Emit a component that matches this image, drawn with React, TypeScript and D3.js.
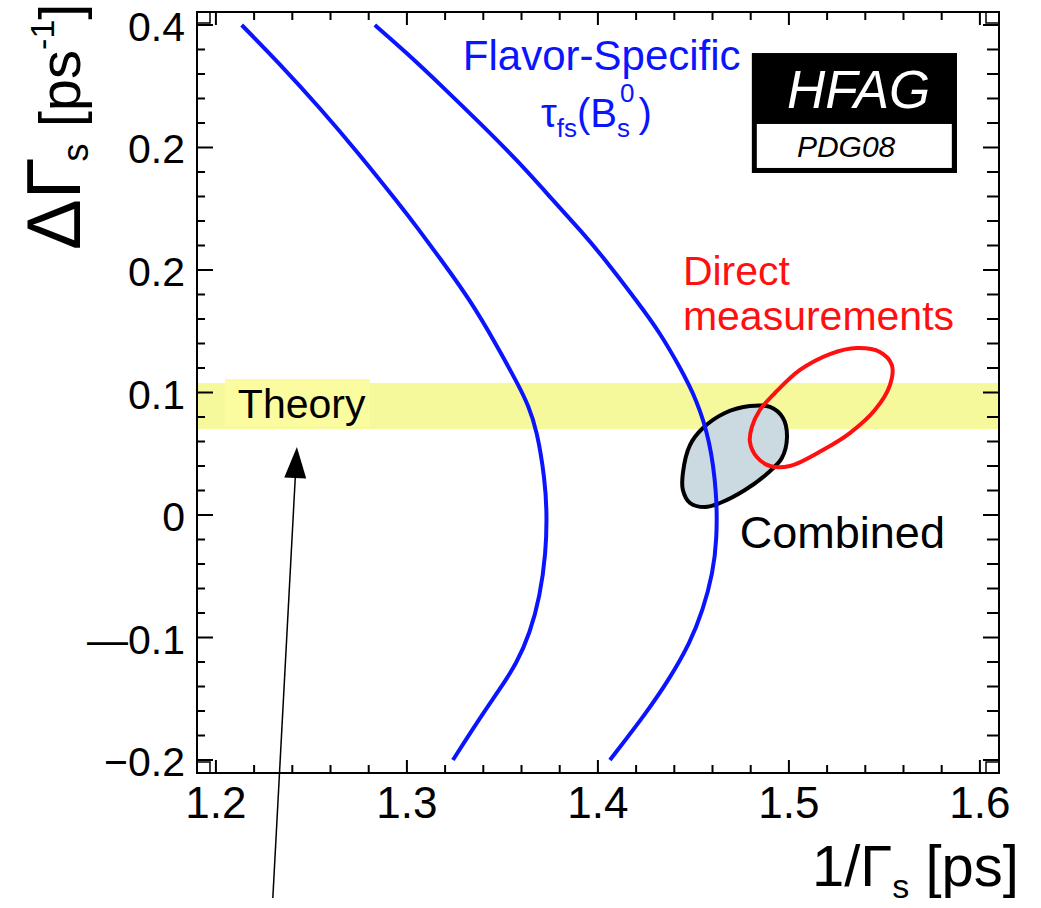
import * as d3 from 'd3';

// ─── Data ───────────────────────────────────────────────────

const xDomain: [number, number] = [1.1901, 1.61];
const yDomain: [number, number] = [-0.2106, 0.4106];

const xTicks = [1.2, 1.3, 1.4, 1.5, 1.6];
const xTickLabels = ['1.2', '1.3', '1.4', '1.5', '1.6'];
const yTicks = [0.4, 0.3, 0.2, 0.1, 0, -0.1, -0.2];
const yTickLabels = ['0.4', '0.2', '0.2', '0.1', '0', '\u20140.1', '\u22120.2'];

// flavor-specific lifetime contours (1/Γs, ΔΓs)
const fsInner: [number, number][] = [
  [1.2135, 0.4], [1.2335, 0.3682], [1.2545, 0.3322], [1.2754, 0.2939], [1.2963, 0.2531],
  [1.3052, 0.2351], [1.3199, 0.2041], [1.333, 0.1755], [1.3461, 0.1412], [1.3592, 0.1037],
  [1.3634, 0.0898], [1.3681, 0.0694], [1.3723, 0.0286], [1.3733, 0.0016], [1.3728, -0.031],
  [1.3696, -0.0669], [1.3644, -0.0963], [1.3576, -0.1208], [1.3487, -0.142], [1.3382, -0.1657],
  [1.3241, -0.2],
];
const fsOuter: [number, number][] = [
  [1.2832, 0.4], [1.3, 0.3771], [1.3188, 0.3494], [1.3382, 0.32], [1.3576, 0.2898],
  [1.3764, 0.2571], [1.3921, 0.2302], [1.401, 0.2139], [1.422, 0.1714], [1.4325, 0.1486],
  [1.4429, 0.1208], [1.4518, 0.0939], [1.4586, 0.0612], [1.4623, 0.018], [1.4623, -0.0204],
  [1.4602, -0.0473], [1.455, -0.0776], [1.4482, -0.1045], [1.4377, -0.1331], [1.4257, -0.1608],
  [1.4063, -0.2],
];

// combined fit contour
const combined: [number, number][] = [
  [1.4445, 0.0343], [1.4482, 0.0571], [1.455, 0.071], [1.4665, 0.0833], [1.4796, 0.089],
  [1.4901, 0.0882], [1.4969, 0.0792], [1.499, 0.0637], [1.4963, 0.0465], [1.489, 0.0343],
  [1.477, 0.0204], [1.4639, 0.0098], [1.456, 0.0065], [1.4482, 0.0098], [1.4445, 0.0204],
];

// direct measurements contour
const direct: [number, number][] = [
  [1.4806, 0.0718], [1.4796, 0.0596], [1.4832, 0.0473], [1.4901, 0.04], [1.5005, 0.04],
  [1.5178, 0.0531], [1.5319, 0.0669], [1.545, 0.0857], [1.5529, 0.1061], [1.5539, 0.1224],
  [1.5476, 0.1331], [1.5356, 0.1363], [1.5215, 0.1314], [1.5058, 0.1184], [1.4927, 0.0996],
  [1.4848, 0.0857],
];

// theory prediction band in ΔΓs
const theoryBand: [number, number] = [0.0702, 0.1078];

// ─── Styles ─────────────────────────────────────────────────

const FONT = '"Liberation Sans", Arial, Helvetica, sans-serif';
const BLUE = '#0a14ff';
const RED = '#ff1010';

export default function App() {
  const W = 1041;
  const H = 908;
  const left = 197, right = 999, top = 12, bottom = 773;

  const x = d3.scaleLinear().domain(xDomain).range([left, right]);
  const y = d3.scaleLinear().domain(yDomain).range([bottom, top]);

  // basis smooths the read-off wobble in the contour points
  const open = d3.line<[number, number]>()
    .x((d) => x(d[0])).y((d) => y(d[1]))
    .curve(d3.curveBasis);
  const closed = d3.line<[number, number]>()
    .x((d) => x(d[0])).y((d) => y(d[1]))
    .curve(d3.curveCatmullRomClosed.alpha(0.5));

  const xMinor = d3.range(1.2, 1.6001, 0.02);
  const yMinor = d3.range(-0.2, 0.4001, 0.02);

  // arrow pointing up to the theory label
  const tail: [number, number] = [x(1.2298), y(-0.3127)];
  const tip: [number, number] = [x(1.2424), y(0.0555)];
  const dx = tip[0] - tail[0], dy = tip[1] - tail[1];
  const len = Math.hypot(dx, dy);
  const ux = dx / len, uy = dy / len;
  const headL = 31, headW = 11;
  const bx = tip[0] - ux * headL, by = tip[1] - uy * headL;
  const head = `${tip[0]},${tip[1]} ${bx - uy * headW},${by + ux * headW} ${bx + uy * headW},${by - ux * headW}`;

  return (
    <svg width={W} height={H} style={{ position: 'absolute', left: 0, top: 0, background: '#fff' }} fontFamily={FONT}>
      {/* theory band */}
      <rect x={left} width={right - left} y={y(theoryBand[1])} height={y(theoryBand[0]) - y(theoryBand[1])} fill="#f6f99b" />
      <rect x={x(1.2047)} width={x(1.2806) - x(1.2047)} y={y(0.111)} height={y(0.0718) - y(0.111)} fill="#fbfba0" />
      <text x={x(1.2115)} y={y(0.0792)} fontSize={41} fill="#000">Theory</text>

      {/* contours */}
      <path d={closed(combined) ?? ''} fill="#cbd9e0" stroke="#000" strokeWidth={4} />
      <path d={closed(direct) ?? ''} fill="none" stroke={RED} strokeWidth={4} />
      <path d={open(fsInner) ?? ''} fill="none" stroke={BLUE} strokeWidth={4} />
      <path d={open(fsOuter) ?? ''} fill="none" stroke={BLUE} strokeWidth={4} />

      {/* frame */}
      <rect x={left} y={top} width={right - left} height={bottom - top} fill="none" stroke="#000" strokeWidth={2} />
      {[[left, bottom - 11], [left, top], [right - 13, bottom - 11], [right - 13, top]].map(([cx, cy], i) => (
        <rect key={i} x={cx} y={cy} width={13} height={11} fill="none" stroke="#000" strokeWidth={1.5} />
      ))}

      {/* ticks */}
      {xMinor.map((v, i) => {
        const major = i % 5 === 0;
        const L = major ? 13 : 8;
        return (
          <g key={'xt' + i} stroke="#000" strokeWidth={2}>
            <line x1={x(v)} x2={x(v)} y1={bottom} y2={bottom - L} />
            <line x1={x(v)} x2={x(v)} y1={top} y2={top + L} />
          </g>
        );
      })}
      {yMinor.map((v, i) => {
        const major = i % 5 === 0;
        const L = major ? 16 : 8;
        return (
          <g key={'yt' + i} stroke="#000" strokeWidth={2}>
            <line x1={left} x2={left + L} y1={y(v)} y2={y(v)} />
            <line x1={right} x2={right - (major ? 16 : 12)} y1={y(v)} y2={y(v)} />
          </g>
        );
      })}

      {/* tick labels */}
      {xTicks.map((v, i) => (
        <text key={'xl' + i} x={x(v)} y={818} fontSize={44} textAnchor="middle" fill="#000">{xTickLabels[i]}</text>
      ))}
      {yTicks.map((v, i) => (
        <text key={'yl' + i} x={185} y={y(v) + 16} fontSize={41} textAnchor="end" fill="#000">{yTickLabels[i]}</text>
      ))}

      {/* axis titles */}
      <text x={812} y={886} fontSize={58} fill="#000">
        1/Γ<tspan fontSize={34} dy={12}>s</tspan><tspan dy={-12}> [ps]</tspan>
      </text>
      <text transform="translate(80,250) rotate(-90)" fontSize={58} fill="#000">
        <tspan fontSize={76}>ΔΓ</tspan>
        <tspan fontSize={36} dx={-4} dy={8}>s</tspan>
        <tspan dy={-8}> [ps</tspan>
        <tspan fontSize={34} dy={-26}>-1</tspan>
        <tspan dy={26}>]</tspan>
      </text>

      {/* annotations */}
      <text x={x(1.3293)} y={y(0.3633)} fontSize={42} fill={BLUE}>Flavor-Specific</text>
      <text x={x(1.3702)} y={y(0.3167)} fontSize={40} fill={BLUE}>
        τ<tspan fontSize={26} dy={10}>fs</tspan>
        <tspan fontSize={40} dy={-10}>(B</tspan>
        <tspan fontSize={26} dy={10}>s</tspan>
        <tspan fontSize={26} dx={-10} dy={-35}>0</tspan>
        <tspan fontSize={40} dx={4} dy={25}>)</tspan>
      </text>
      <text x={x(1.4445)} y={y(0.1878)} fontSize={41} fill={RED}>Direct</text>
      <text x={x(1.4445)} y={y(0.151)} fontSize={41} fill={RED}>measurements</text>
      <text x={x(1.4743)} y={y(-0.0269)} fontSize={45} fill="#000">Combined</text>

      {/* HFAG logo */}
      <rect x={x(1.4806)} y={y(0.3771)} width={x(1.588) - x(1.4806)} height={y(0.2792) - y(0.3771)} fill="#000" />
      <rect x={x(1.4832)} y={y(0.3192)} width={x(1.5853) - x(1.4832)} height={y(0.2833) - y(0.3192)} fill="#fff" />
      <text x={x(1.499)} y={y(0.3322)} fontSize={53} fontStyle="italic" fill="#fff">HFAG</text>
      <text x={x(1.5042)} y={y(0.2922)} fontSize={30} fontStyle="italic" fill="#000">PDG08</text>

      {/* arrow */}
      <line x1={tail[0]} y1={tail[1]} x2={bx} y2={by} stroke="#000" strokeWidth={1.5} />
      <polygon points={head} fill="#000" />
    </svg>
  );
}
